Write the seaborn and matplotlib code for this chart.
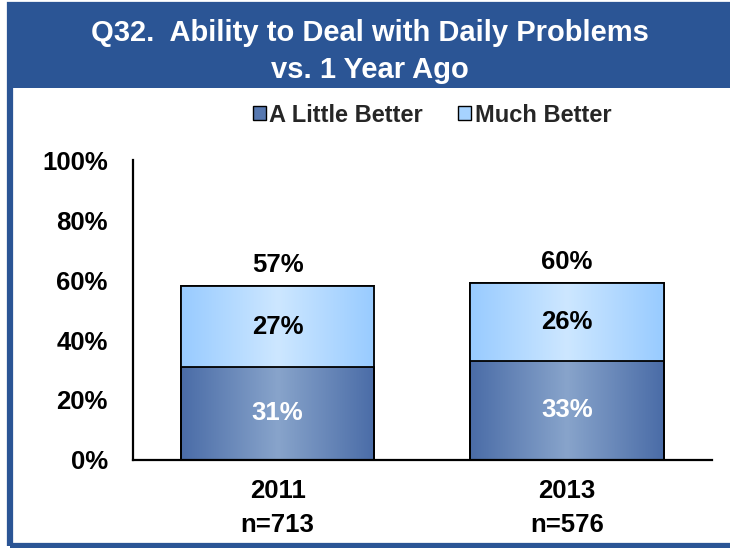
import numpy as np
import pandas as pd
import matplotlib
matplotlib.use("Agg")
import matplotlib.pyplot as plt
from matplotlib.colors import LinearSegmentedColormap
from matplotlib.patches import Rectangle
import seaborn as sns

# -------------------------
# Data
# -------------------------
years = ["2011\nn=713", "2013\nn=576"]
little_better = [31, 33]
much_better = [27, 26]
total_labels = ["57%", "60%"]
y_ticks = [0, 20, 40, 60, 80, 100]

title_blue = "#2B5595"

sns.set_theme(style="white")
plt.rcParams["font.family"] = ["Liberation Sans", "DejaVu Sans"]
plt.rcParams["font.weight"] = "bold"

df = pd.DataFrame({
    "year": years,
    "little": little_better,
    "much": much_better,
})
df["total"] = df["little"] + df["much"]

fig = plt.figure(figsize=(7.3, 5.48), dpi=100)
ax = fig.add_axes([0.182, 0.1606, 0.793, 0.5474])

# total bar first (light), then little bar on top of it
sns.barplot(data=df, x="year", y="total", color="#A6D3FF", width=0.667,
            edgecolor="black", linewidth=1.3, ax=ax)
n_top = len(ax.patches)
sns.barplot(data=df, x="year", y="little", color="#5778B0", width=0.667,
            edgecolor="black", linewidth=1.3, ax=ax)

# horizontal gradients (darker at edges, lighter in the middle)
cmap_top = LinearSegmentedColormap.from_list("top", ["#98CBFF", "#CDE7FF", "#98CBFF"])
cmap_bot = LinearSegmentedColormap.from_list("bot", ["#4A6CA7", "#88A4CB", "#4A6CA7"])
grad = np.linspace(0, 1, 256).reshape(1, -1)
for i, p in enumerate(ax.patches):
    x0, y0 = p.get_x(), p.get_y()
    w, h = p.get_width(), p.get_height()
    cm = cmap_top if i < n_top else cmap_bot
    im = ax.imshow(grad, cmap=cm, aspect="auto", extent=[x0, x0 + w, y0, y0 + h],
                   zorder=p.get_zorder() + 0.1 + i * 0.01)
    im.set_clip_path(p)
    edge = Rectangle((x0, y0), w, h, fill=False, edgecolor="black", linewidth=1.3,
                     zorder=p.get_zorder() + 0.5 + i * 0.01)
    ax.add_patch(edge)

# segment labels
for i in range(len(years)):
    lb = little_better[i]
    mb = much_better[i]
    ax.text(i, lb / 2, f"{lb}%", ha="center", va="center", color="white",
            fontsize=18.5, fontweight="bold", zorder=10)
    ax.text(i, lb + mb / 2, f"{mb}%", ha="center", va="center", color="black",
            fontsize=18.5, fontweight="bold", zorder=10)
    ax.text(i, lb + mb + 3, total_labels[i], ha="center", va="bottom", color="black",
            fontsize=18.5, fontweight="bold", zorder=10)

ax.set_xlim(-0.5, 1.5)
ax.set_ylim(0, 100)
ax.set_yticks(y_ticks)
ax.set_yticklabels([f"{t}%" for t in y_ticks], fontsize=18.5, fontweight="bold")
ax.set_xticks(range(len(years)))
ax.set_xticklabels(years, fontsize=18.5, fontweight="bold", linespacing=1.5)
ax.set_xlabel("")
ax.set_ylabel("")
ax.tick_params(axis="y", length=0, pad=18, colors="black")
ax.tick_params(axis="x", length=0, pad=14, colors="black")
ax.grid(False)
for s in ["top", "right"]:
    ax.spines[s].set_visible(False)
for s in ["left", "bottom"]:
    ax.spines[s].set_color("black")
    ax.spines[s].set_linewidth(1.6)

# -------------------------
# Title box and frame
# -------------------------
fig.patches.append(Rectangle((10 / 730, 1 - 546 / 548), 1.0, 541 / 548, transform=fig.transFigure,
                             fill=False, edgecolor=title_blue, linewidth=4.5, zorder=0))
fig.patches.append(Rectangle((7 / 730, 1 - 88 / 548), 1.0, 83 / 548, transform=fig.transFigure,
                             facecolor=title_blue, edgecolor="none", zorder=1))
fig.text(370 / 730, 1 - 33 / 548, "Q32.  Ability to Deal with Daily Problems", ha="center",
         va="center", color="white", fontsize=21, fontweight="bold", zorder=2)
fig.text(370 / 730, 1 - 70 / 548, "vs. 1 Year Ago", ha="center", va="center",
         color="white", fontsize=21, fontweight="bold", zorder=2)

# legend
handles = [
    Rectangle((0, 0), 1, 1, facecolor="#5778B0", edgecolor="black", linewidth=1),
    Rectangle((0, 0), 1, 1, facecolor="#A6D3FF", edgecolor="black", linewidth=1),
]
fig.legend(handles, ["A Little Better", "Much Better"], loc="center",
           bbox_to_anchor=(432 / 730, 1 - 115 / 548), ncol=2, frameon=False,
           prop={"size": 17, "weight": "bold"}, handlelength=0.55, handleheight=0.55,
           handletextpad=0.15, columnspacing=1.5)

fig.savefig("out.png", dpi=100)
